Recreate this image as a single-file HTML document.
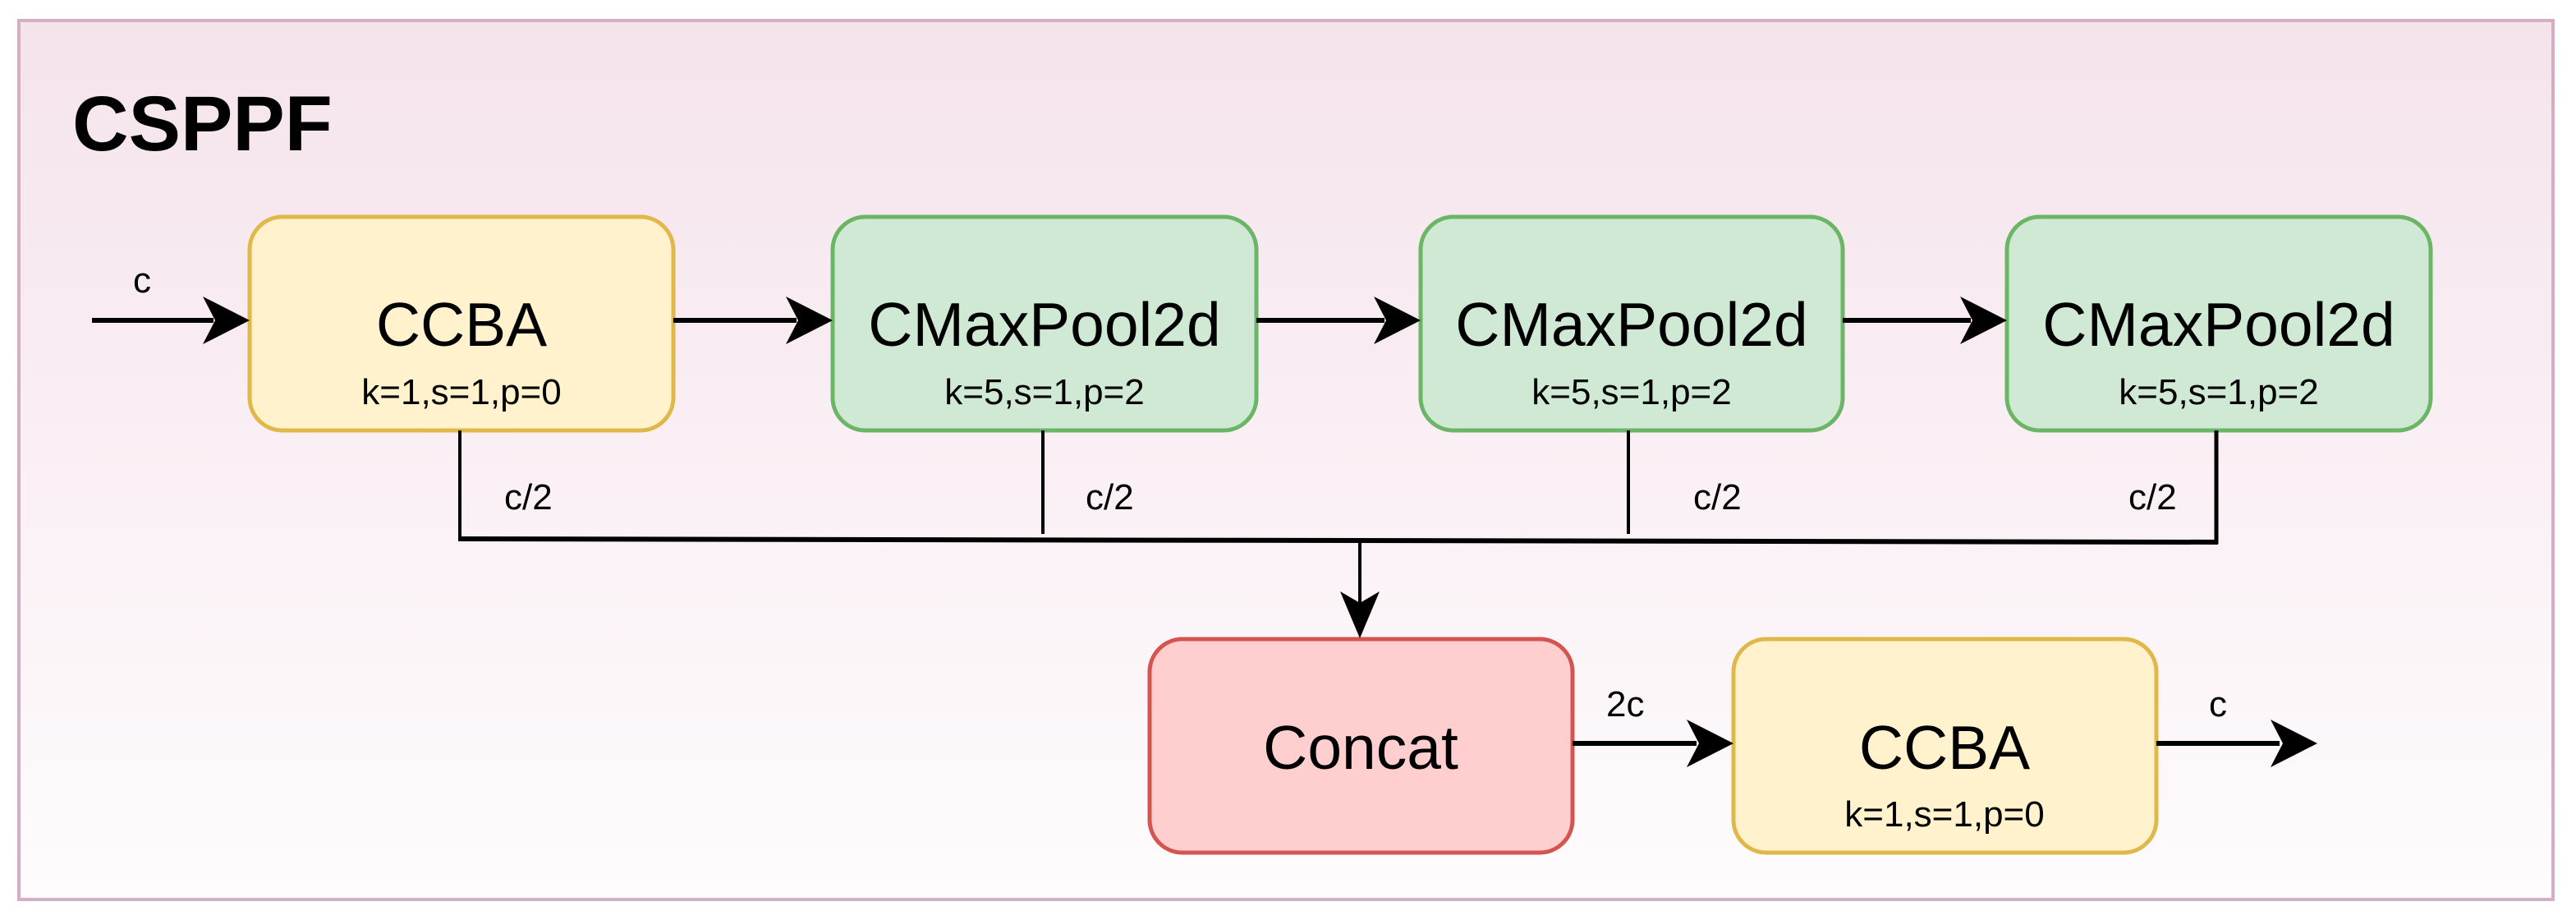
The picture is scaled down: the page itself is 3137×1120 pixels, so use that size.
<!DOCTYPE html>
<html><head><meta charset="utf-8"><style>
html,body{margin:0;padding:0;background:#fff;}
svg{display:block;}
text{font-family:"Liberation Sans",Arial,sans-serif;fill:#000;}
</style></head><body>
<svg width="3137" height="1120" viewBox="0 0 3137 1120" xmlns="http://www.w3.org/2000/svg">
<defs>
<linearGradient id="bg" x1="0" y1="0" x2="0" y2="1">
<stop offset="0" stop-color="#f5e3ec"/>
<stop offset="1" stop-color="#fefcfd"/>
</linearGradient>
</defs>
<rect x="0" y="0" width="3137" height="1120" fill="#fff"/>
<rect x="23" y="25" width="3086" height="1070" fill="url(#bg)" stroke="#d5adc5" stroke-width="4"/>
<text x="88" y="183" font-size="95" font-weight="bold">CSPPF</text>

<g stroke-width="5">
<rect x="304" y="264" width="516" height="260" rx="40" fill="#fff2cc" stroke="#e0b84a"/>
<rect x="1014" y="264" width="516" height="260" rx="40" fill="#d0e9d4" stroke="#6ab566"/>
<rect x="1730" y="264" width="514" height="260" rx="40" fill="#d0e9d4" stroke="#6ab566"/>
<rect x="2444" y="264" width="516" height="260" rx="40" fill="#d0e9d4" stroke="#6ab566"/>
<rect x="1400" y="778" width="515" height="260" rx="40" fill="#ffcfcf" stroke="#d45550"/>
<rect x="2111" y="778" width="515" height="260" rx="40" fill="#fff2cc" stroke="#e0b84a"/>
</g>

<g text-anchor="middle">
<text x="562" y="421" font-size="75">CCBA</text>
<text x="562" y="492" font-size="44">k=1,s=1,p=0</text>
<text x="1272" y="421" font-size="75">CMaxPool2d</text>
<text x="1272" y="492" font-size="44">k=5,s=1,p=2</text>
<text x="1987" y="421" font-size="75">CMaxPool2d</text>
<text x="1987" y="492" font-size="44">k=5,s=1,p=2</text>
<text x="2702" y="421" font-size="75">CMaxPool2d</text>
<text x="2702" y="492" font-size="44">k=5,s=1,p=2</text>
<text x="1657" y="936" font-size="75">Concat</text>
<text x="2368" y="936" font-size="75">CCBA</text>
<text x="2368" y="1006" font-size="44">k=1,s=1,p=0</text>
</g>

<g stroke="#000" fill="none">
<line x1="112" y1="390" x2="260" y2="390" stroke-width="6"/>
<line x1="820" y1="390" x2="970" y2="390" stroke-width="6"/>
<line x1="1530" y1="390" x2="1686" y2="390" stroke-width="6"/>
<line x1="2244" y1="390" x2="2400" y2="390" stroke-width="6"/>
<line x1="1915" y1="905" x2="2066" y2="905" stroke-width="6"/>
<line x1="2626" y1="905" x2="2776" y2="905" stroke-width="6"/>
<line x1="560" y1="524" x2="560" y2="658" stroke-width="4"/>
<line x1="1270" y1="524" x2="1270" y2="650" stroke-width="4"/>
<line x1="1983" y1="524" x2="1983" y2="650" stroke-width="4"/>
<line x1="2699" y1="524" x2="2699" y2="662" stroke-width="5"/>
<line x1="558" y1="656" x2="2701" y2="660" stroke-width="6"/>
<line x1="1656" y1="656" x2="1656" y2="740" stroke-width="4"/>
</g>
<g fill="#000">
<polygon points="304,390 247,361 262,390 247,419"/>
<polygon points="1014,390 957,361 972,390 957,419"/>
<polygon points="1730,390 1673,361 1688,390 1673,419"/>
<polygon points="2444,390 2387,361 2402,390 2387,419"/>
<polygon points="2111,905 2054,876 2069,905 2054,934"/>
<polygon points="2822,905 2765,876 2780,905 2765,934"/>
<polygon points="1656,777 1632,720 1656,734 1680,720"/>
</g>

<g font-size="44">
<text x="162" y="356">c</text>
<text x="614" y="620">c/2</text>
<text x="1322" y="620">c/2</text>
<text x="2062" y="620">c/2</text>
<text x="2592" y="620">c/2</text>
<text x="1956" y="872">2c</text>
<text x="2690" y="872">c</text>
</g>
</svg>
</body></html>
